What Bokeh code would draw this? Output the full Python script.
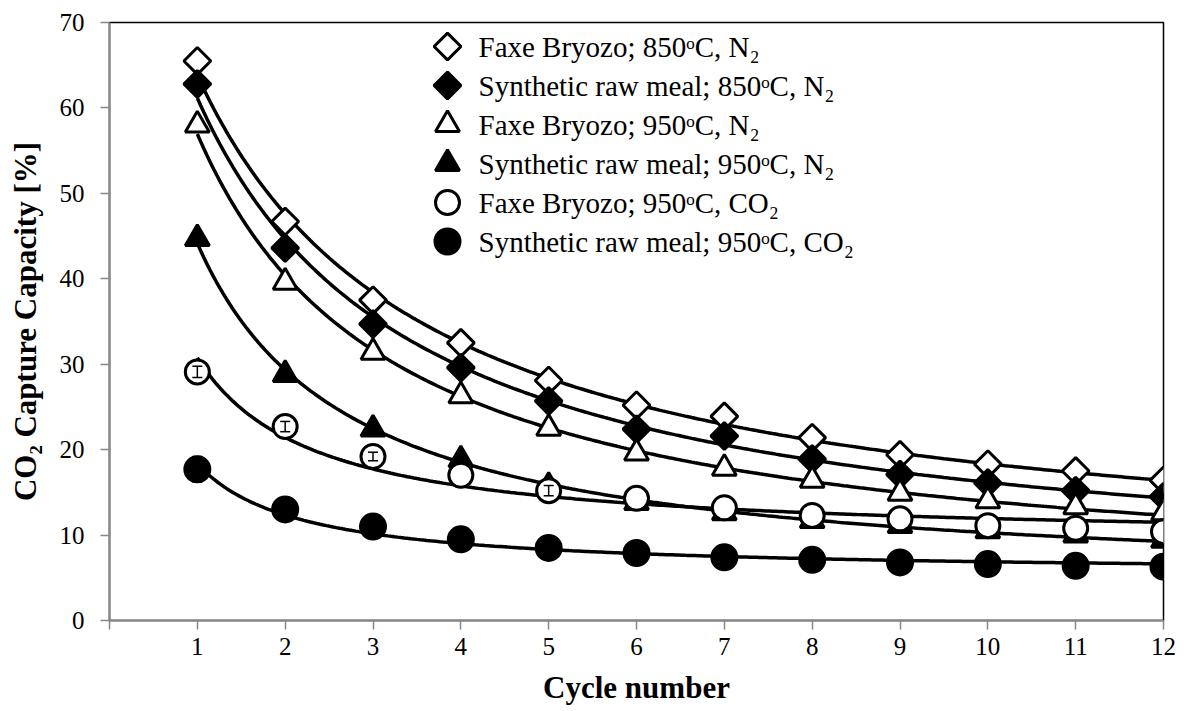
import numpy as np
from bokeh.plotting import figure
from bokeh.models import ColumnDataSource, FixedTicker, Whisker, Range1d
from bokeh.core.properties import value
from bokeh.embed import file_html
from bokeh.resources import INLINE

cycles = [1, 2, 3, 4, 5, 6, 7, 8, 9, 10, 11, 12]
faxe_850_n2 = [65.5, 46.7, 37.5, 32.5, 28.1, 25.2, 23.9, 21.4, 19.4, 18.3, 17.5, 16.4]
synth_850_n2 = [62.8, 43.6, 34.7, 29.6, 25.7, 22.4, 21.6, 18.9, 17.1, 16.1, 15.2, 14.5]
faxe_950_n2 = [58.0, 39.6, 31.4, 26.3, 22.5, 19.6, 17.8, 16.4, 14.9, 14.0, 13.3, 12.6]
synth_950_n2 = [44.7, 28.8, 22.4, 18.8, 15.7, 13.8, 12.6, 11.7, 11.1, 10.5, 10.0, 9.4]
faxe_950_co2 = [29.1, 22.7, 19.2, 17.0, 15.2, 14.3, 13.2, 12.3, 11.9, 11.1, 10.8, 10.4]
synth_950_co2 = [17.7, 13.0, 11.0, 9.5, 8.5, 7.9, 7.4, 7.1, 6.8, 6.6, 6.4, 6.3]
faxe_950_co2_err = [0.65, 0.6, 0.5, 0.0, 0.6, 0.0, 0.0, 0.0, 0.0, 0.0, 0.0, 0.0]
synth_950_co2_err = [1.5, 0.0, 0.0, 0.0, 0.0, 0.0, 0.0, 0.0, 0.0, 0.0, 0.0, 0.0]

labels = [
    "Faxe Bryozo; 850ᵒC, N₂",
    "Synthetic raw meal; 850ᵒC, N₂",
    "Faxe Bryozo; 950ᵒC, N₂",
    "Synthetic raw meal; 950ᵒC, N₂",
    "Faxe Bryozo; 950ᵒC, CO₂",
    "Synthetic raw meal; 950ᵒC, CO₂",
]
x_ticks = [0, 1, 2, 3, 4, 5, 6, 7, 8, 9, 10, 11, 12]
y_ticks = [0, 10, 20, 30, 40, 50, 60, 70]

FONT = "Liberation Serif"
W, H = 1184, 711
BL, BR, BT, BB = 109, 21, 22, 91
FW, FH = W - BL - BR, H - BT - BB

p = figure(width=W, height=H, x_range=(0, 12), y_range=(0, 70),
           output_backend="svg", toolbar_location=None,
           min_border_left=BL, min_border_right=BR, min_border_top=BT, min_border_bottom=BB)
p.extra_x_ranges = {"px": Range1d(0, FW)}
p.extra_y_ranges = {"px": Range1d(FH, 0)}
p.xgrid.visible = False
p.ygrid.visible = False
p.outline_line_color = "black"
p.outline_line_width = 1.5

styles = [
    ("square", np.pi / 4, 19, "white"),
    ("square", np.pi / 4, 19, "black"),
    ("triangle", 0, 24, "white"),
    ("triangle", 0, 24, "black"),
    ("circle", 0, 24, "white"),
    ("circle", 0, 25, "black"),
]
series = [faxe_850_n2, synth_850_n2, faxe_950_n2, synth_950_n2, faxe_950_co2, synth_950_co2]


def decay_fit(vals):
    # least-squares fit of X_N = Xr + 1 / (1/(1-Xr) + k N)  (sorbent decay model)
    n = np.array(cycles, dtype=float)
    y = np.array(vals) / 100.0
    r = np.linspace(0.0, 0.3, 301)[:, None, None]
    k = np.logspace(-2, 1.5, 700)[None, :, None]
    pred = r + 1.0 / (1.0 / (1.0 - r) + k * n[None, None, :])
    sse = ((pred - y[None, None, :]) ** 2).sum(axis=2)
    i, j = np.unravel_index(np.argmin(sse), sse.shape)
    return r[i, 0, 0], k[0, j, 0]


nfine = np.linspace(1, 12, 300)
for vals in series:
    rr, kk = decay_fit(vals)
    p.line(nfine, 100.0 * (rr + 1.0 / (1.0 / (1.0 - rr) + kk * nfine)),
           line_color="black", line_width=3.5)

for vals, (marker, ang, sz, fill) in zip(series, styles):
    src = ColumnDataSource(dict(x=cycles, y=vals))
    p.scatter("x", "y", source=src, marker=marker, angle=ang, size=sz,
              fill_color=fill, line_color="black", line_width=3)

for vals, err in [(faxe_950_co2, faxe_950_co2_err), (synth_950_co2, synth_950_co2_err)]:
    xe = [c for c, e in zip(cycles, err) if e > 0]
    ye = [v for v, e in zip(vals, err) if e > 0]
    ee = [e for e in err if e > 0]
    wsrc = ColumnDataSource(dict(x=xe, lo=[v - e for v, e in zip(ye, ee)],
                                 hi=[v + e for v, e in zip(ye, ee)]))
    w = Whisker(source=wsrc, base="x", lower="lo", upper="hi", line_color="black",
                line_width=1.5, level="overlay")
    w.upper_head.size = 10
    w.lower_head.size = 10
    w.upper_head.line_width = 1.5
    w.lower_head.line_width = 1.5
    p.add_layout(w)

# legend (positions in frame pixels from top-left)
LEG_MX, LEG_TX, LEG_Y0, LEG_DY = 338, 369, 24, 39
for i, ((marker, ang, sz, fill), lab) in enumerate(zip(styles, labels)):
    yy = LEG_Y0 + i * LEG_DY
    p.scatter([LEG_MX], [yy], x_range_name="px", y_range_name="px", marker=marker,
              angle=ang, size=sz, fill_color=fill, line_color="black", line_width=3)
    p.text([LEG_TX], [yy], text=[lab], x_range_name="px", y_range_name="px",
           text_font=value(FONT), text_font_size="29px", text_baseline="middle",
           text_align="left", text_color="black")

for ax in (p.xaxis[0], p.yaxis[0]):
    ax.axis_line_color = "#868686"
    ax.axis_line_width = 2
    ax.major_tick_line_color = "#868686"
    ax.major_tick_line_width = 1.5
    ax.major_tick_out = 9
    ax.major_tick_in = 0
    ax.minor_tick_line_color = None
    ax.major_label_text_font = FONT
    ax.major_label_text_font_size = "25px"
    ax.major_label_text_color = "black"
    ax.axis_label_text_font = FONT
    ax.axis_label_text_font_size = "31px"
    ax.axis_label_text_font_style = "bold"
    ax.axis_label_text_color = "black"

p.xaxis.ticker = FixedTicker(ticks=x_ticks)
p.xaxis.major_label_overrides = {0: ""}
p.xaxis.major_label_standoff = 8
p.xaxis.axis_label = "Cycle number"
p.xaxis.axis_label_standoff = 12
p.yaxis.ticker = FixedTicker(ticks=y_ticks)
p.yaxis.major_label_standoff = 16
p.yaxis.axis_label = "CO₂ Capture Capacity [%]"
p.yaxis.axis_label_standoff = 14

open("out.html", "w").write(file_html(p, INLINE))
